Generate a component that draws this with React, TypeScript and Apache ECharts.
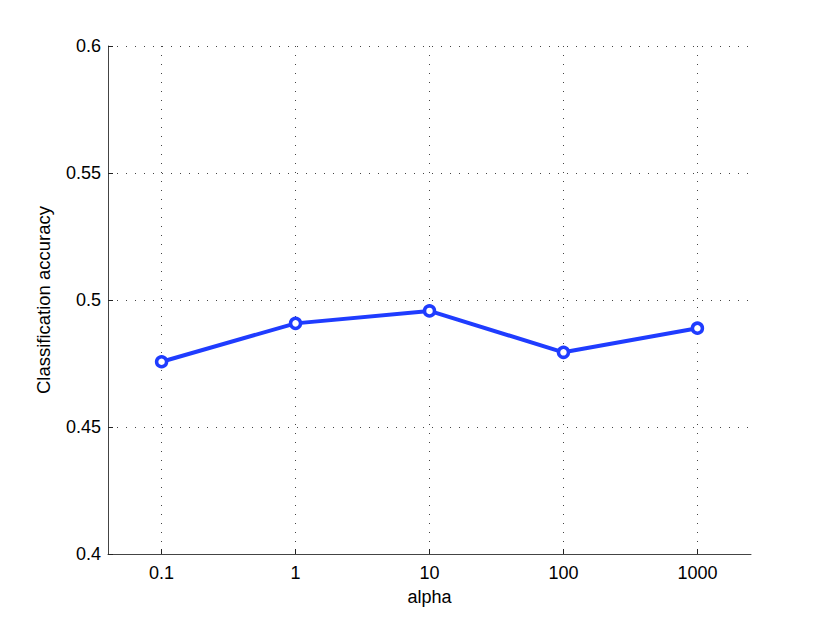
import React, { useEffect, useRef } from "react";
import * as echarts from "echarts";

const alphaLabels = ["0.1", "1", "10", "100", "1000"];
const alphaPositions = [0, 1, 2, 3, 4];
const accuracy = [0.4757, 0.4908, 0.4957, 0.4794, 0.4889];

export default function App() {
  const ref = useRef<HTMLDivElement>(null);
  useEffect(() => {
    const chart = echarts.init(ref.current!, undefined, { renderer: "svg" });
    const font = "'Liberation Sans', Arial, Helvetica, sans-serif";
    chart.setOption({
      animation: false,
      backgroundColor: "#ffffff",
      grid: { left: 108, right: 79, top: 46, bottom: 71 },
      xAxis: {
        type: "value",
        min: -0.4,
        max: 4.4,
        name: "alpha",
        nameLocation: "middle",
        nameGap: 34,
        nameTextStyle: { fontFamily: font, fontSize: 18, color: "#000" },
        axisLine: { show: true, onZero: false, lineStyle: { color: "#444", width: 1 } },
        axisTick: { show: true, inside: true, length: 5, customValues: alphaPositions, lineStyle: { color: "#222" } },
        axisLabel: {
          customValues: alphaPositions,
          formatter: (v: number) => alphaLabels[Math.round(v)] ?? "",
          fontFamily: font,
          fontSize: 18,
          color: "#000",
          margin: 10,
        },
        splitLine: { show: true, lineStyle: { color: "#444", type: [1, 8], width: 1 } },
      },
      yAxis: {
        type: "value",
        min: 0.4,
        max: 0.6,
        interval: 0.05,
        name: "Classification accuracy",
        nameLocation: "middle",
        nameGap: 55,
        nameTextStyle: { fontFamily: font, fontSize: 18.5, color: "#000" },
        axisLine: { show: true, onZero: false, lineStyle: { color: "#444", width: 1 } },
        axisTick: { show: true, inside: true, length: 5, lineStyle: { color: "#222" } },
        axisLabel: {
          formatter: (v: number) => String(parseFloat(v.toFixed(2))),
          fontFamily: font,
          fontSize: 18,
          color: "#000",
          margin: 7,
        },
        splitLine: { show: true, lineStyle: { color: "#444", type: [1, 8], width: 1 } },
      },
      series: [
        {
          type: "line",
          data: alphaPositions.map((x, i) => [x, accuracy[i]]),
          lineStyle: { color: "#1f3cff", width: 4 },
          symbol: "circle",
          symbolSize: 10,
          itemStyle: { color: "#ffffff", borderColor: "#1f3cff", borderWidth: 3.5 },
        },
      ],
    });
    return () => chart.dispose();
  }, []);
  return (
    <div
      ref={ref}
      style={{ position: "absolute", left: 0, top: 0, width: 830, height: 625 }}
    />
  );
}
